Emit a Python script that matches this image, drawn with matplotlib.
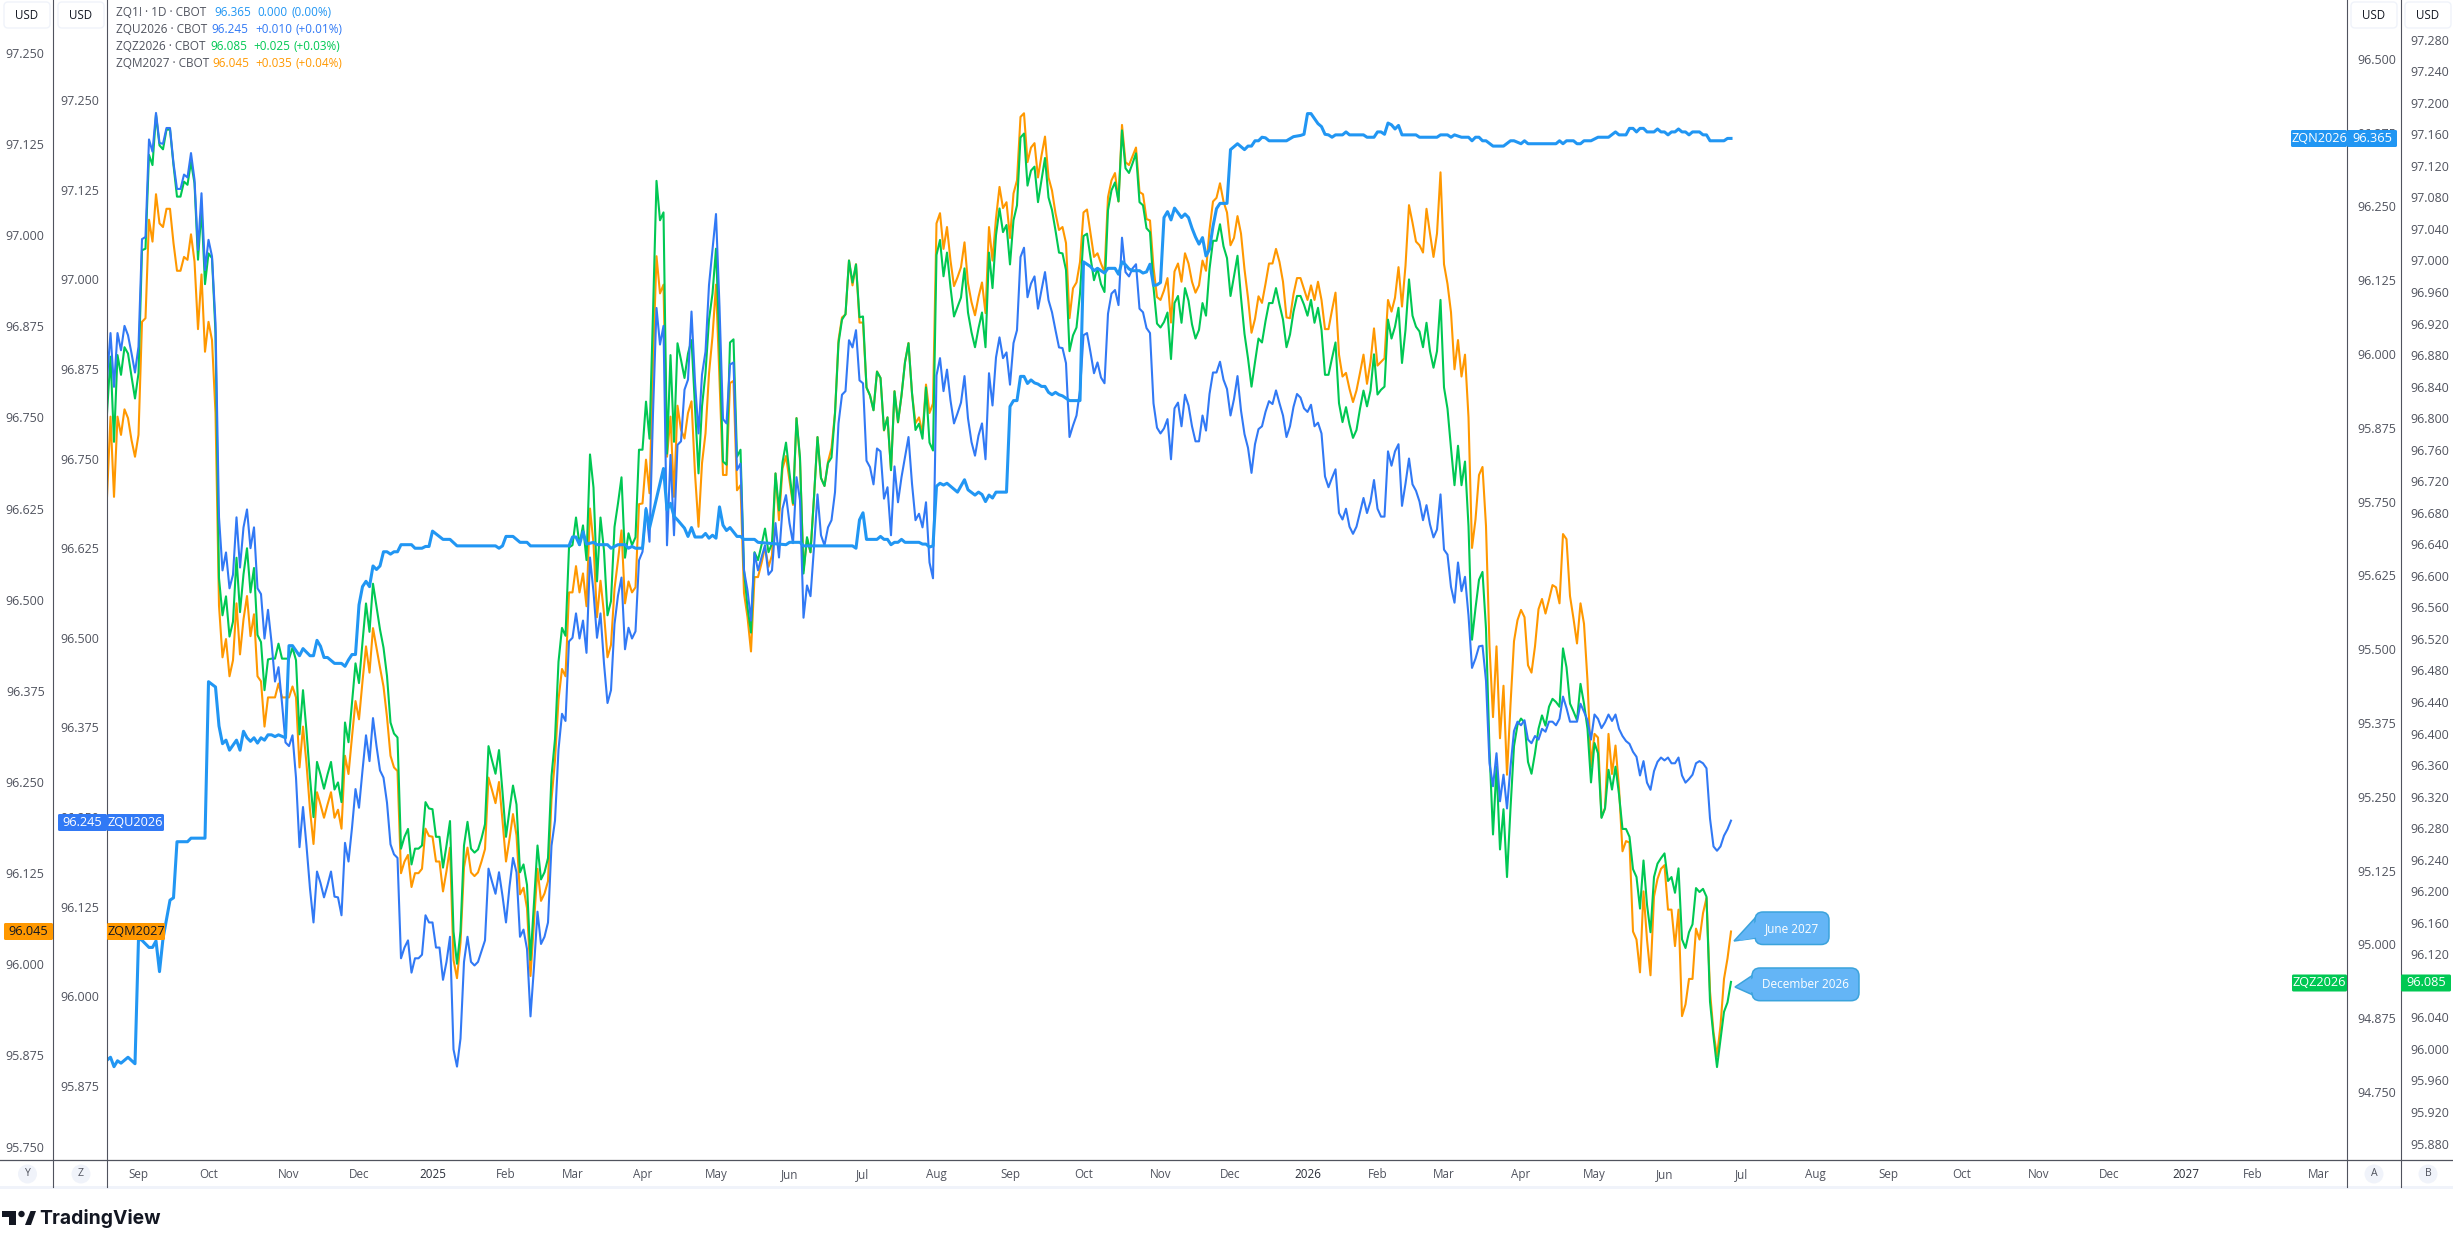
import numpy as np
import matplotlib
matplotlib.use("Agg")
import matplotlib.pyplot as plt
from matplotlib.patches import FancyBboxPatch, Polygon, Circle, Rectangle
from matplotlib.ticker import FormatStrFormatter

plt.rcParams['font.family'] = ['Open Sans', 'DejaVu Sans']

W, H = 2453, 1246
COL_TEXT = '#50535E'
COL_LINE = '#50535E'
COL_PALE = '#F0F3FA'
COL_ZQ1 = '#2196F3'
COL_ZQU = '#3179F5'
COL_ZQZ = '#00C853'
COL_ZQM = '#FF9800'

# ZQU2026, one close per bar
zqu = [
    96.860,96.925,96.850,96.925,96.901,96.935,96.922,96.897,96.870,96.906,
    97.056,97.059,97.195,97.178,97.232,97.190,97.189,97.211,97.211,97.162,
    97.126,97.126,97.146,97.142,97.176,97.139,97.041,97.120,97.013,97.055,
    97.032,96.939,96.668,96.594,96.619,96.569,96.588,96.668,96.598,96.654,
    96.679,96.625,96.654,96.569,96.561,96.499,96.539,96.494,96.439,96.459,
    96.409,96.354,96.349,96.364,96.305,96.208,96.264,96.210,96.150,96.103,
    96.174,96.158,96.138,96.155,96.174,96.139,96.138,96.113,96.214,96.188,
    96.235,96.289,96.263,96.315,96.364,96.328,96.388,96.349,96.315,96.305,
    96.270,96.212,96.198,96.193,96.053,96.068,96.078,96.033,96.053,96.053,
    96.058,96.113,96.103,96.103,96.068,96.068,96.023,96.048,96.083,95.926,
    95.902,95.941,96.048,96.083,96.048,96.043,96.048,96.063,96.078,96.178,
    96.160,96.143,96.173,96.140,96.103,96.153,96.193,96.173,96.083,96.093,
    96.066,95.972,96.041,96.118,96.073,96.083,96.103,96.210,96.245,96.344,
    96.394,96.384,96.495,96.500,96.534,96.499,96.524,96.479,96.612,96.564,
    96.500,96.534,96.464,96.409,96.427,96.519,96.559,96.584,96.484,96.514,
    96.499,96.509,96.608,96.620,96.681,96.634,96.813,96.960,96.909,96.935,
    96.629,96.755,96.643,96.769,96.774,96.846,96.860,96.955,96.857,96.785,
    96.867,96.899,96.992,97.041,97.091,96.962,96.805,96.799,96.881,96.884,
    96.734,96.743,96.594,96.566,96.524,96.618,96.594,96.612,96.629,96.588,
    96.594,96.660,96.612,96.680,96.699,96.660,96.632,96.724,96.692,96.528,
    96.573,96.558,96.626,96.700,96.643,96.629,96.654,96.664,96.703,96.799,
    96.839,96.844,96.915,96.905,96.929,96.859,96.855,96.747,96.738,96.714,
    96.764,96.760,96.694,96.710,96.643,96.739,96.689,96.724,96.752,96.780,
    96.715,96.664,96.673,96.654,96.689,96.605,96.583,96.866,96.890,96.844,
    96.874,96.831,96.799,96.813,96.828,96.865,96.806,96.773,96.754,96.782,
    96.799,96.749,96.869,96.824,96.891,96.919,96.890,96.898,96.853,96.911,
    96.929,97.031,97.044,96.975,96.994,97.004,96.959,96.985,97.010,96.971,
    96.954,96.929,96.905,96.904,96.883,96.780,96.796,96.810,96.845,96.922,
    96.925,96.898,96.869,96.884,96.863,96.855,96.952,96.980,96.985,96.964,
    97.058,97.010,97.004,97.015,97.021,96.959,96.954,96.932,96.925,96.827,
    96.793,96.785,96.792,96.805,96.749,96.820,96.828,96.795,96.839,96.824,
    96.795,96.774,96.774,96.810,96.789,96.840,96.870,96.870,96.885,96.860,
    96.847,96.810,96.833,96.865,96.817,96.784,96.765,96.730,96.770,96.791,
    96.795,96.815,96.830,96.826,96.845,96.827,96.810,96.780,96.795,96.822,
    96.840,96.835,96.820,96.815,96.825,96.795,96.800,96.785,96.725,96.710,
    96.723,96.735,96.674,96.665,96.680,96.655,96.645,96.655,96.675,96.695,
    96.674,96.690,96.720,96.680,96.669,96.669,96.760,96.740,96.760,96.770,
    96.684,96.715,96.750,96.714,96.705,96.690,96.664,96.685,96.658,96.640,
    96.651,96.700,96.623,96.616,96.571,96.549,96.605,96.565,96.585,96.531,
    96.458,96.471,96.488,96.489,96.440,96.325,96.293,96.339,96.272,96.309,
    96.262,96.320,96.370,96.383,96.378,96.385,96.358,96.353,96.363,96.358,
    96.373,96.369,96.383,96.383,96.378,96.387,96.418,96.402,96.383,96.383,
    96.383,96.408,96.397,96.385,96.358,96.393,96.387,96.374,96.382,96.393,
    96.384,96.393,96.373,96.363,96.356,96.352,96.341,96.334,96.308,96.328,
    96.298,96.288,96.314,96.327,96.333,96.329,96.333,96.325,96.325,96.333,
    96.308,96.298,96.303,96.309,96.325,96.328,96.325,96.318,96.248,96.209,
    96.203,96.209,96.224,96.233,96.245,
]

# ZQZ2026
zqz = [
    96.806,96.878,96.770,96.880,96.855,96.890,96.882,96.853,96.825,96.857,
    97.013,97.015,97.134,97.121,97.185,97.146,97.141,97.166,97.166,97.121,
    97.081,97.081,97.100,97.096,97.125,97.098,97.001,97.066,96.970,97.009,
    97.003,96.908,96.597,96.550,96.574,96.523,96.542,96.623,96.554,96.602,
    96.635,96.579,96.610,96.525,96.516,96.455,96.494,96.495,96.495,96.514,
    96.495,96.495,96.495,96.509,96.493,96.399,96.455,96.403,96.344,96.294,
    96.364,96.348,96.330,96.348,96.364,96.329,96.338,96.313,96.414,96.389,
    96.439,96.489,96.464,96.516,96.565,96.529,96.590,96.561,96.532,96.509,
    96.473,96.414,96.400,96.395,96.254,96.269,96.279,96.234,96.254,96.254,
    96.258,96.313,96.305,96.304,96.269,96.269,96.230,96.258,96.289,96.149,
    96.108,96.149,96.258,96.288,96.254,96.249,96.253,96.267,96.285,96.384,
    96.366,96.349,96.379,96.326,96.269,96.303,96.334,96.310,96.224,96.234,
    96.208,96.113,96.185,96.258,96.215,96.224,96.242,96.346,96.393,96.491,
    96.534,96.524,96.636,96.639,96.674,96.639,96.664,96.620,96.754,96.712,
    96.593,96.674,96.632,96.550,96.568,96.662,96.692,96.725,96.623,96.654,
    96.639,96.649,96.760,96.760,96.821,96.774,96.933,97.101,97.051,97.061,
    96.755,96.880,96.770,96.895,96.874,96.851,96.882,96.899,96.815,96.730,
    96.815,96.857,96.925,96.958,97.015,96.891,96.745,96.741,96.896,96.900,
    96.751,96.760,96.607,96.560,96.528,96.630,96.620,96.639,96.660,96.630,
    96.641,96.730,96.683,96.744,96.769,96.730,96.692,96.800,96.750,96.603,
    96.649,96.630,96.700,96.776,96.724,96.714,96.743,96.750,96.806,96.895,
    96.925,96.932,97.000,96.972,96.995,96.928,96.929,96.839,96.829,96.810,
    96.859,96.851,96.785,96.801,96.734,96.834,96.795,96.829,96.871,96.895,
    96.832,96.785,96.793,96.774,96.839,96.769,96.759,97.007,97.026,96.980,
    97.010,96.966,96.929,96.941,96.953,96.990,96.934,96.909,96.890,96.914,
    96.934,96.890,97.010,96.965,97.032,97.066,97.036,97.045,96.995,97.051,
    97.070,97.156,97.161,97.095,97.114,97.119,97.074,97.102,97.130,97.080,
    97.064,97.038,97.010,97.009,96.988,96.885,96.905,96.915,96.958,97.031,
    97.034,97.004,96.975,96.990,96.970,96.960,97.064,97.089,97.099,97.075,
    97.165,97.117,97.111,97.123,97.136,97.074,97.070,97.041,97.036,96.966,
    96.920,96.915,96.922,96.934,96.875,96.946,96.955,96.921,96.965,96.949,
    96.919,96.901,96.912,96.946,96.930,96.989,97.025,97.025,97.046,97.018,
    97.003,96.955,96.980,97.006,96.953,96.907,96.876,96.840,96.871,96.901,
    96.896,96.923,96.946,96.946,96.965,96.944,96.925,96.890,96.906,96.935,
    96.955,96.955,96.944,96.930,96.950,96.921,96.940,96.912,96.855,96.855,
    96.876,96.896,96.819,96.795,96.814,96.792,96.775,96.785,96.812,96.835,
    96.815,96.835,96.881,96.830,96.836,96.840,96.925,96.901,96.916,96.940,
    96.870,96.912,96.976,96.930,96.916,96.910,96.890,96.921,96.885,96.864,
    96.885,96.950,96.839,96.812,96.762,96.715,96.765,96.715,96.745,96.663,
    96.519,96.559,96.595,96.605,96.533,96.379,96.272,96.358,96.253,96.304,
    96.218,96.305,96.384,96.411,96.419,96.414,96.364,96.349,96.375,96.406,
    96.423,96.410,96.434,96.444,96.440,96.434,96.508,96.484,96.438,96.428,
    96.417,96.463,96.438,96.406,96.338,96.388,96.375,96.293,96.305,96.354,
    96.329,96.358,96.323,96.279,96.279,96.269,96.228,96.218,96.178,96.239,
    96.183,96.148,96.218,96.235,96.242,96.248,96.213,96.218,96.198,96.229,
    96.139,96.128,96.148,96.158,96.204,96.199,96.203,96.193,96.060,96.016,
    95.977,96.012,96.047,96.059,96.085,
]

# ZQM2027
zqm = [
    96.641,96.751,96.641,96.751,96.726,96.761,96.749,96.719,96.696,96.726,
    96.881,96.886,97.021,96.991,97.056,97.016,97.011,97.036,97.036,96.989,
    96.951,96.951,96.970,96.966,97.001,96.964,96.871,96.946,96.840,96.881,
    96.856,96.756,96.492,96.421,96.446,96.395,96.417,96.495,96.425,96.473,
    96.505,96.450,96.480,96.395,96.388,96.326,96.366,96.366,96.366,96.385,
    96.366,96.366,96.366,96.381,96.366,96.270,96.326,96.275,96.212,96.165,
    96.236,96.219,96.201,96.219,96.236,96.201,96.212,96.186,96.286,96.261,
    96.312,96.361,96.336,96.388,96.436,96.400,96.461,96.434,96.407,96.381,
    96.339,96.286,96.270,96.265,96.125,96.141,96.150,96.106,96.125,96.125,
    96.131,96.186,96.176,96.175,96.141,96.141,96.100,96.128,96.160,96.006,
    95.981,96.030,96.133,96.160,96.126,96.121,96.126,96.141,96.158,96.256,
    96.239,96.221,96.250,96.197,96.141,96.172,96.206,96.177,96.096,96.105,
    96.077,95.984,96.057,96.131,96.087,96.097,96.114,96.226,96.280,96.363,
    96.405,96.395,96.510,96.510,96.546,96.510,96.536,96.491,96.625,96.577,
    96.476,96.526,96.481,96.421,96.438,96.515,96.554,96.595,96.495,96.525,
    96.510,96.517,96.631,96.632,96.692,96.646,96.824,96.971,96.920,96.932,
    96.696,96.751,96.641,96.766,96.733,96.721,96.756,96.772,96.673,96.600,
    96.687,96.728,96.810,96.861,96.932,96.801,96.671,96.671,96.797,96.800,
    96.650,96.657,96.509,96.476,96.429,96.531,96.531,96.550,96.572,96.545,
    96.561,96.673,96.609,96.680,96.697,96.664,96.630,96.749,96.691,96.540,
    96.584,96.565,96.640,96.723,96.667,96.656,96.689,96.708,96.756,96.856,
    96.887,96.891,96.965,96.931,96.960,96.880,96.880,96.791,96.780,96.760,
    96.813,96.804,96.732,96.750,96.678,96.786,96.743,96.780,96.826,96.852,
    96.783,96.742,96.750,96.728,96.795,96.756,96.769,97.016,97.030,96.981,
    97.011,96.965,96.930,96.942,96.956,96.990,96.934,96.908,96.890,96.915,
    96.935,96.893,97.011,96.965,97.023,97.066,97.037,97.045,96.996,97.057,
    97.075,97.162,97.167,97.100,97.120,97.126,97.079,97.109,97.135,97.079,
    97.061,97.030,97.007,97.011,96.989,96.886,96.927,96.935,96.963,97.031,
    97.035,97.003,96.970,96.975,96.961,96.949,97.052,97.075,97.085,97.046,
    97.151,97.100,97.096,97.108,97.120,97.059,97.056,97.022,97.020,96.956,
    96.915,96.911,96.924,96.941,96.880,96.950,96.961,96.936,96.975,96.961,
    96.936,96.921,96.931,96.965,96.951,97.007,97.046,97.051,97.071,97.046,
    97.031,96.986,96.996,97.026,97.002,96.953,96.914,96.866,96.885,96.916,
    96.907,96.933,96.961,96.961,96.981,96.963,96.936,96.887,96.886,96.919,
    96.941,96.941,96.926,96.911,96.931,96.911,96.936,96.911,96.871,96.871,
    96.897,96.921,96.836,96.806,96.811,96.789,96.771,96.787,96.811,96.836,
    96.796,96.826,96.872,96.821,96.826,96.831,96.911,96.895,96.914,96.956,
    96.902,96.958,97.041,97.017,96.991,96.986,96.976,97.036,97.002,96.970,
    97.002,97.086,96.960,96.933,96.894,96.816,96.856,96.806,96.836,96.750,
    96.571,96.610,96.671,96.682,96.601,96.436,96.339,96.436,96.310,96.382,
    96.260,96.356,96.443,96.472,96.486,96.476,96.410,96.400,96.436,96.487,
    96.501,96.481,96.500,96.520,96.517,96.495,96.590,96.583,96.505,96.474,
    96.440,96.495,96.467,96.389,96.271,96.316,96.311,96.202,96.214,96.316,
    96.261,96.300,96.242,96.155,96.169,96.167,96.045,96.034,95.989,96.100,
    96.034,95.985,96.093,96.117,96.131,96.136,96.075,96.075,96.025,96.075,
    95.929,95.945,95.980,95.980,96.049,96.034,96.070,96.091,95.963,95.907,
    95.874,95.916,95.980,96.008,96.045,
]

# ZQ1! front month, only the bars where it turns
zq1_bars = [
    0,1,2,3,4,6,8,9,10,12,
    13,14,15,16,17,18,19,20,23,24,
    28,29,31,32,33,34,35,37,38,39,
    40,41,42,43,44,45,46,47,48,49,
    51,52,53,55,56,58,59,60,61,62,
    63,65,67,68,69,70,71,72,73,74,
    75,76,77,78,79,80,81,82,83,84,
    87,88,90,91,92,93,96,98,100,111,
    112,113,114,116,118,120,121,132,133,134,
    135,136,137,139,140,143,144,146,148,149,
    150,151,153,154,155,159,160,161,162,163,
    165,166,167,168,170,171,172,173,174,175,
    176,177,178,180,181,182,185,186,194,195,
    198,199,213,214,215,216,217,220,221,222,
    223,224,225,226,227,228,232,233,234,235,
    236,237,238,239,240,243,245,246,248,249,
    250,251,252,253,254,257,258,259,260,261,
    262,263,264,265,266,267,268,269,270,271,
    272,273,275,278,279,281,282,283,285,286,
    288,289,290,291,292,293,295,296,297,298,
    299,300,301,302,303,304,305,307,308,309,
    310,311,312,313,314,315,316,317,318,320,
    321,323,325,326,327,328,329,330,331,332,
    337,339,341,342,343,344,346,347,348,349,
    350,351,353,354,355,359,360,362,363,364,
    365,366,367,368,369,370,374,375,380,381,
    383,384,385,387,389,390,391,392,393,394,
    396,399,401,402,404,405,406,414,415,416,
    417,419,420,421,422,424,426,429,431,432,
    434,435,436,437,438,439,440,442,443,444,
    445,446,447,448,449,450,451,452,453,455,
    456,457,458,462,463,464,
]
zq1 = [
    94.804,94.809,94.793,94.803,94.799,94.809,94.798,95.010,95.007,94.995,
    94.995,95.006,94.954,95.010,95.043,95.075,95.079,95.174,95.174,95.180,
    95.180,95.445,95.436,95.370,95.340,95.346,95.329,95.346,95.329,95.361,
    95.350,95.344,95.350,95.341,95.350,95.346,95.355,95.355,95.352,95.355,
    95.350,95.506,95.506,95.489,95.501,95.489,95.489,95.515,95.505,95.486,
    95.486,95.476,95.476,95.471,95.482,95.491,95.491,95.575,95.606,95.615,
    95.606,95.641,95.635,95.641,95.665,95.665,95.661,95.665,95.665,95.677,
    95.677,95.671,95.671,95.674,95.674,95.700,95.686,95.686,95.675,95.675,
    95.671,95.675,95.691,95.691,95.681,95.681,95.675,95.675,95.690,95.690,
    95.677,95.699,95.678,95.681,95.677,95.677,95.671,95.677,95.677,95.671,
    95.674,95.671,95.671,95.737,95.705,95.806,95.736,95.747,95.725,95.719,
    95.705,95.691,95.706,95.690,95.690,95.696,95.688,95.693,95.688,95.741,
    95.710,95.701,95.706,95.691,95.691,95.686,95.686,95.681,95.677,95.681,
    95.681,95.675,95.675,95.671,95.719,95.731,95.686,95.686,95.691,95.686,
    95.686,95.677,95.681,95.681,95.686,95.681,95.681,95.678,95.678,95.673,
    95.675,95.776,95.781,95.778,95.781,95.766,95.787,95.770,95.761,95.766,
    95.762,95.750,95.761,95.756,95.766,95.766,95.911,95.921,95.921,95.962,
    95.962,95.950,95.956,95.951,95.949,95.945,95.945,95.935,95.931,95.935,
    95.931,95.929,95.921,95.921,96.156,96.148,96.141,96.145,96.137,96.145,
    96.145,96.135,96.156,96.151,96.144,96.141,96.141,96.137,96.139,96.152,
    96.116,96.117,96.121,96.231,96.241,96.227,96.247,96.231,96.237,96.231,
    96.213,96.198,96.186,96.197,96.166,96.177,96.216,96.246,96.255,96.255,
    96.346,96.356,96.346,96.352,96.352,96.361,96.361,96.367,96.366,96.361,
    96.361,96.368,96.370,96.372,96.407,96.407,96.390,96.385,96.372,96.371,
    96.367,96.371,96.371,96.376,96.371,96.371,96.367,96.367,96.376,96.376,
    96.372,96.391,96.388,96.381,96.387,96.371,96.371,96.367,96.367,96.371,
    96.371,96.367,96.371,96.367,96.367,96.361,96.367,96.367,96.361,96.361,
    96.352,96.352,96.361,96.361,96.356,96.361,96.356,96.356,96.361,96.356,
    96.361,96.361,96.356,96.356,96.361,96.361,96.367,96.367,96.376,96.371,
    96.371,96.382,96.382,96.376,96.382,96.382,96.376,96.376,96.381,96.376,
    96.376,96.371,96.376,96.376,96.381,96.376,96.376,96.371,96.376,96.376,
    96.371,96.371,96.361,96.361,96.365,96.365,
]

month_bars = [9,29,52,72,93,114,133,153,174,195,216,237,258,279,301,321,343,363,382,404,425,445,467,488,509,530,552,572,594,613,632]
month_labels = ['Sep','Oct','Nov','Dec','2025','Feb','Mar','Apr','May','Jun','Jul','Aug','Sep','Oct','Nov','Dec','2026','Feb','Mar','Apr','May','Jun','Jul','Aug','Sep','Oct','Nov','Dec','2027','Feb','Mar']

left_outer_ticks = [95.75 + 0.125 * i for i in range(13)]
left_inner_ticks = [95.875 + 0.125 * i for i in range(12)]
right_inner_ticks = [94.75 + 0.125 * i for i in range(15)]
right_outer_ticks = [95.88 + 0.04 * i for i in range(36)]

legend_rows = [
    ('ZQ1! · 1D · CBOT', '96.365', '0.000', '(0.00%)', COL_ZQ1, (214.7, 257.7, 291.7)),
    ('ZQU2026 · CBOT', '96.245', '+0.010', '(+0.01%)', COL_ZQU, (211.7, 255, 295)),
    ('ZQZ2026 · CBOT', '96.085', '+0.025', '(+0.03%)', COL_ZQZ, (210.7, 253.7, 293.7)),
    ('ZQM2027 · CBOT', '96.045', '+0.035', '(+0.04%)', COL_ZQM, (212.7, 255.7, 295.7)),
]

fig = plt.figure(figsize=(W / 100, H / 100), dpi=100, facecolor='white')
pane = [107 / W, (H - 1160) / H, 2240 / W, 1160 / H]


def make_axis(ylim, ticks, side, pad, z):
    ax = fig.add_axes(pane, zorder=z)
    ax.patch.set_alpha(0)
    ax.set_xlim(0, 640)
    ax.set_ylim(*ylim)
    for s in ax.spines.values():
        s.set_visible(False)
    ax.set_xticks([])
    ax.set_yticks(ticks)
    ax.yaxis.set_major_formatter(FormatStrFormatter('%.3f'))
    if side == 'right':
        ax.yaxis.tick_right()
    ax.tick_params(axis='y', length=0, pad=pad, labelsize=8.9, labelcolor=COL_TEXT)
    return ax


# every contract has its own price scale
ax_m = make_axis((95.7317, 97.3223), left_outer_ticks, 'left', 44.9, 1)
ax_z = make_axis((95.8591, 97.3304), right_outer_ticks, 'right', 45.9, 2)
ax_u = make_axis((95.7717, 97.3895), left_inner_ticks, 'left', 5.8, 3)
ax_1 = make_axis((94.6350, 96.5994), right_inner_ticks, 'right', 7.2, 4)

ax_m.plot(range(len(zqm)), zqm, color=COL_ZQM, lw=1.5, solid_joinstyle='round')
ax_z.plot(range(len(zqz)), zqz, color=COL_ZQZ, lw=1.5, solid_joinstyle='round')
ax_u.plot(range(len(zqu)), zqu, color=COL_ZQU, lw=1.5, solid_joinstyle='round')
ax_1.plot(zq1_bars, zq1, color=COL_ZQ1, lw=2.2, solid_joinstyle='round')

ax_m.set_xticks(month_bars)
ax_m.set_xticklabels(month_labels)
ax_m.tick_params(axis='x', length=0, pad=6, labelsize=8.4, labelcolor=COL_TEXT)
for lab in ax_m.get_xticklabels():
    if lab.get_text().isdigit():
        lab.set_color('#2A2E39')

# everything around the pane, in pixels
ov = fig.add_axes([0, 0, 1, 1], zorder=10)
ov.patch.set_alpha(0)
ov.set_xlim(0, W)
ov.set_ylim(H, 0)
ov.axis('off')

ov.add_patch(Rectangle((0, 1186), W, 2.5, fc=COL_PALE, ec='none'))
ov.plot([0, W], [1160, 1160], color=COL_LINE, lw=0.9)
for x in (53, 107, 2347, 2401):
    ov.plot([x, x], [0, 1187], color=COL_LINE, lw=0.8)


def usd_box(x0, x1):
    ov.add_patch(FancyBboxPatch((x0 + 3, 5), x1 - x0 - 6, 20, boxstyle='round,pad=3,rounding_size=4',
                                fc='white', ec=COL_PALE, lw=1))
    ov.text((x0 + x1) / 2, 15.5, 'USD', ha='center', va='center', fontsize=8.3, color='#131722')


for a, b in ((4, 50), (58, 104), (2351, 2397), (2405, 2451)):
    usd_box(a, b)

for x, t in ((27.5, 'Y'), (81, 'Z'), (2374, 'A'), (2428, 'B')):
    ov.add_patch(Circle((x, 1174), 9.5, fc=COL_PALE, ec='none'))
    ov.text(x, 1174, t, ha='center', va='center', fontsize=7.6, color=COL_TEXT)


def tag(x0, x1, yc, color, text, tc):
    ov.add_patch(FancyBboxPatch((x0 + 1, yc - 7.5), x1 - x0 - 2, 15, boxstyle='round,pad=1,rounding_size=1.5',
                                fc=color, ec='none', zorder=3))
    ov.text((x0 + x1) / 2, yc, text, ha='center', va='center', fontsize=9.2, color=tc, zorder=4)


tag(2291, 2347, 138.5, COL_ZQ1, 'ZQN2026', 'white')
tag(2347, 2397, 138.5, COL_ZQ1, '96.365', 'white')
tag(58, 107, 822.5, COL_ZQU, '96.245', 'white')
tag(107, 164, 822.5, COL_ZQU, 'ZQU2026', 'white')
tag(4, 53, 931.5, COL_ZQM, '96.045', '#131722')
tag(107, 165, 931.5, COL_ZQM, 'ZQM2027', '#131722')
tag(2292, 2347, 983, COL_ZQZ, 'ZQZ2026', 'white')
tag(2401, 2451, 983, COL_ZQZ, '96.085', 'white')

for i, (name, price, chg, pct, col, xs) in enumerate(legend_rows):
    y = 12.7 + 17 * i
    ov.text(116, y, name, ha='left', va='center', fontsize=8.5, color=COL_TEXT)
    for x, t in zip(xs, (price, chg, pct)):
        ov.text(x, y, t, ha='left', va='center', fontsize=8.5, color=col)


def callout(x0, x1, y0, y1, tip, base_a, base_b, text):
    fill = '#64B5F6'
    edge = '#3BA3DC'
    ov.add_patch(Polygon([tip, base_a, base_b], fc=fill, ec=edge, lw=1.1, zorder=5))
    ov.add_patch(FancyBboxPatch((x0 + 6, y0 + 6), x1 - x0 - 12, y1 - y0 - 12, boxstyle='round,pad=6,rounding_size=8',
                                fc=fill, ec=edge, lw=1.1, zorder=6))
    ov.add_patch(Polygon([(tip[0] + 5, tip[1]), (base_a[0] + 3, base_a[1] + 1), (base_b[0] + 3, base_b[1] - 1)],
                         fc=fill, ec='none', zorder=7))
    ov.text((x0 + x1) / 2, (y0 + y1) / 2, text, ha='center', va='center', fontsize=8.5, color='white', zorder=8)


callout(1755, 1829, 912, 944.5, (1734, 941), (1756, 917), (1756, 938), 'June 2027')
callout(1752, 1859, 968, 1000.7, (1735, 987), (1753, 975), (1753, 995), 'December 2026')

# logo
ink = '#131722'
ov.add_patch(Polygon([(2, 1211), (16, 1211), (16, 1225), (9, 1225), (9, 1217), (2, 1217)], fc=ink, ec='none'))
ov.add_patch(Circle((21.5, 1214), 3.2, fc=ink, ec='none'))
ov.add_patch(Polygon([(25, 1225), (30.5, 1211), (36, 1211), (31, 1225)], fc=ink, ec='none'))
ov.text(39, 1218.5, 'TradingView', ha='left', va='center', fontsize=13.9, fontweight='bold', family=['Inter', 'DejaVu Sans'], color=ink)

fig.savefig('out.png', dpi=100)
